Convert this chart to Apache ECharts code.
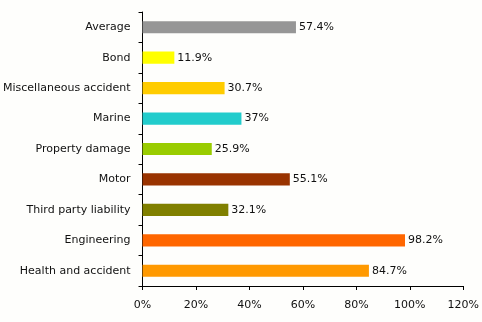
<!DOCTYPE html>
<html><head><meta charset="utf-8">
<script src="https://cdn.jsdelivr.net/npm/echarts@6/dist/echarts.min.js"></script>
<style>html,body{margin:0;padding:0;background:#fefefc;}#c{width:482px;height:322px;}</style>
</head><body><div id="c"></div>
<script>
const categories = ["Health and accident","Engineering","Third party liability","Motor","Property damage","Marine","Miscellaneous accident","Bond","Average"];
const values = [84.7, 98.2, 32.1, 55.1, 25.9, 37, 30.7, 11.9, 57.4];
const colors = ["#ff9900","#ff6600","#808000","#993300","#99cc00","#22cccc","#ffcc00","#ffff00","#969696"];
const xTicks = [0, 20, 40, 60, 80, 100, 120];

const chart = echarts.init(document.getElementById('c'), null, {renderer:'canvas'});
const font = 'DejaVu Sans';
chart.setOption({
  backgroundColor: '#fefefc',
  animation: false,
  grid: {left: 142, right: 17, top: 12, bottom: 36, containLabel: false},
  xAxis: {
    type: 'value', min: xTicks[0], max: xTicks[xTicks.length-1], interval: 20,
    axisLine: {show: true, lineStyle: {color: '#000', width: 1}},
    axisTick: {show: true, length: 4, lineStyle: {color: '#000'}},
    splitLine: {show: false},
    axisLabel: {formatter: v => v + '%', color: '#111', fontFamily: font, fontSize: 11, margin: 14}
  },
  yAxis: {
    type: 'category', data: categories,
    axisLine: {show: true, lineStyle: {color: '#000', width: 1}},
    axisTick: {show: true, length: 4, lineStyle: {color: '#000'}},
    axisLabel: {color: '#111', fontFamily: font, fontSize: 11, margin: 12}
  },
  series: [{
    type: 'bar',
    data: values.map((v, i) => ({value: v, itemStyle: {color: colors[i]}})),
    barWidth: '40%',
    label: {show: true, position: 'right', distance: 3, formatter: p => p.value + '%', color: '#111', fontFamily: font, fontSize: 11}
  }]
});
</script></body></html>
